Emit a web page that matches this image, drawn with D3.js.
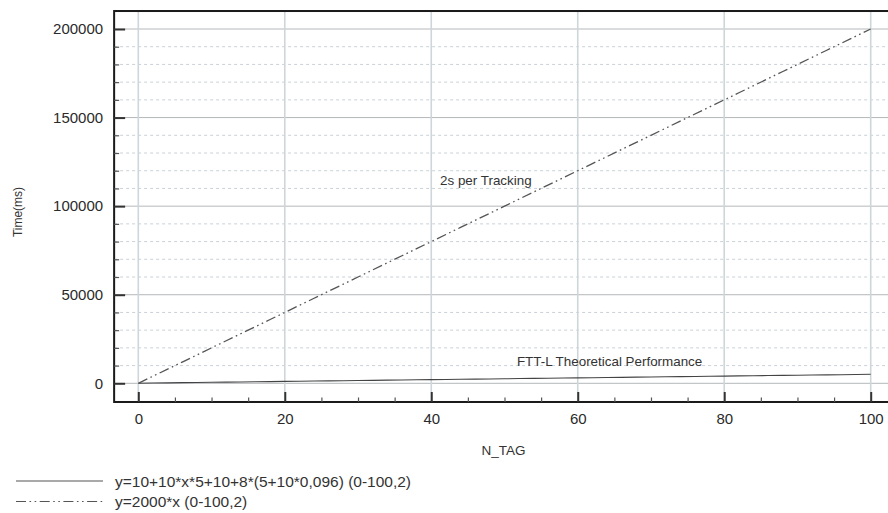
<!DOCTYPE html>
<html>
<head>
<meta charset="utf-8">
<script src="https://cdn.jsdelivr.net/npm/d3@7"></script>
<style>
  html, body { margin: 0; padding: 0; background: #fff; }
  svg { display: block; font-family: "Liberation Sans", Arial, Helvetica, sans-serif; }
</style>
</head>
<body>
<svg id="chart" width="888" height="513"></svg>
<script>
// Sample points N_TAG = 0..100 step 2
const nTag = [0,2,4,6,8,10,12,14,16,18,20,22,24,26,28,30,32,34,36,38,40,42,44,46,48,50,
  52,54,56,58,60,62,64,66,68,70,72,74,76,78,80,82,84,86,88,90,92,94,96,98,100];

// y = 10+10*x*5+10+8*(5+10*0,096)
const fttTime = [67.68,167.68,267.68,367.68,467.68,567.68,667.68,767.68,867.68,967.68,
  1067.68,1167.68,1267.68,1367.68,1467.68,1567.68,1667.68,1767.68,1867.68,1967.68,
  2067.68,2167.68,2267.68,2367.68,2467.68,2567.68,2667.68,2767.68,2867.68,2967.68,
  3067.68,3167.68,3267.68,3367.68,3467.68,3567.68,3667.68,3767.68,3867.68,3967.68,
  4067.68,4167.68,4267.68,4367.68,4467.68,4567.68,4667.68,4767.68,4867.68,4967.68,5067.68];

// y = 2000*x
const trackTime = [0,4000,8000,12000,16000,20000,24000,28000,32000,36000,
  40000,44000,48000,52000,56000,60000,64000,68000,72000,76000,
  80000,84000,88000,92000,96000,100000,104000,108000,112000,116000,
  120000,124000,128000,132000,136000,140000,144000,148000,152000,156000,
  160000,164000,168000,172000,176000,180000,184000,188000,192000,196000,200000];

const xMajorTicks = [0, 20, 40, 60, 80, 100];
const xMinorTicks = [5,10,15,25,30,35,45,50,55,65,70,75,85,90,95];
const yMajorTicks = [0, 50000, 100000, 150000, 200000];
const yMinorTicks = [10000,20000,30000,40000,60000,70000,80000,90000,
  110000,120000,130000,140000,160000,170000,180000,190000];

const legendLabels = ["y=10+10*x*5+10+8*(5+10*0,096) (0-100,2)", "y=2000*x (0-100,2)"];
const curveLabels = ["FTT-L Theoretical Performance", "2s per Tracking"];
const curveLabelPos = [[51.7, 9900], [41.2, 111900]];

const svg = d3.select("#chart");

const x = d3.scaleLinear().domain([0, 100]).range([138.3, 870.7]);
const y = d3.scaleLinear().domain([0, 200000]).range([383.3, 29]);

// plot frame extents (in data units)
const xLo = -3.3, xHi = 103.5, yLo = -10550, yHi = 210150;
const fx0 = x(xLo), fx1 = x(xHi), fy0 = y(yHi), fy1 = y(yLo);

const grid = svg.append("g");
// minor horizontal dashed grid
grid.selectAll(".hminor").data(yMinorTicks).join("line")
  .attr("x1", fx0).attr("x2", fx1)
  .attr("y1", d => y(d)).attr("y2", d => y(d))
  .attr("stroke", "#c9d2d8").attr("stroke-width", 1)
  .attr("stroke-dasharray", "3,3");
// major horizontal grid
grid.selectAll(".hmajor").data(yMajorTicks).join("line")
  .attr("x1", fx0).attr("x2", fx1)
  .attr("y1", d => y(d)).attr("y2", d => y(d))
  .attr("stroke", "#b4b8bb").attr("stroke-width", 1);
// vertical grid
grid.selectAll(".vmajor").data(xMajorTicks).join("line")
  .attr("x1", d => x(d)).attr("x2", d => x(d))
  .attr("y1", fy0).attr("y2", fy1)
  .attr("stroke", "#cfd6da").attr("stroke-width", 1.6);

// series
const line = d3.line().x(d => x(d[0])).y(d => y(d[1]));
svg.append("path")
  .datum(nTag.map((n, i) => [n, fttTime[i]]))
  .attr("d", line).attr("fill", "none")
  .attr("stroke", "#444").attr("stroke-width", 1.1);
svg.append("path")
  .datum(nTag.map((n, i) => [n, trackTime[i]]))
  .attr("d", line).attr("fill", "none")
  .attr("stroke", "#555").attr("stroke-width", 1.3)
  .attr("stroke-dasharray", "10,3.5,1.6,3.5,1.6,3.5");

// curve labels
svg.selectAll(".clabel").data(curveLabels).join("text")
  .attr("x", (d, i) => x(curveLabelPos[i][0]))
  .attr("y", (d, i) => y(curveLabelPos[i][1]))
  .attr("font-size", 13.4).attr("fill", "#333")
  .text(d => d);

// frame
svg.append("rect")
  .attr("x", fx0).attr("y", fy0)
  .attr("width", fx1 - fx0).attr("height", fy1 - fy0)
  .attr("fill", "none").attr("stroke", "#1a1a1a").attr("stroke-width", 2);

// x axis (ticks pointing inward)
const xAxis = svg.append("g").attr("transform", `translate(0,${fy1})`)
  .call(d3.axisBottom(x).tickValues(xMajorTicks).tickSizeInner(-10).tickSizeOuter(0).tickPadding(11)
    .tickFormat(d3.format("d")));
xAxis.select(".domain").remove();
xAxis.selectAll(".tick line").attr("stroke", "#333").attr("stroke-width", 2);
xAxis.selectAll(".tick text").attr("font-size", 15).attr("fill", "#2a2a2a")
  .attr("font-family", "Liberation Sans, Arial, sans-serif");
svg.append("g").attr("transform", `translate(0,${fy1})`)
  .call(d3.axisBottom(x).tickValues(xMinorTicks).tickSizeInner(-4.5).tickSizeOuter(0).tickFormat(""))
  .call(g => g.select(".domain").remove())
  .selectAll(".tick line").attr("stroke", "#555").attr("stroke-width", 1.2);

// y axis
const yAxis = svg.append("g").attr("transform", `translate(${fx0},0)`)
  .call(d3.axisLeft(y).tickValues(yMajorTicks).tickSizeInner(-11).tickSizeOuter(0).tickPadding(11)
    .tickFormat(d3.format("d")));
yAxis.select(".domain").remove();
yAxis.selectAll(".tick line").attr("stroke", "#333").attr("stroke-width", 2);
yAxis.selectAll(".tick text").attr("font-size", 15).attr("fill", "#2a2a2a")
  .attr("font-family", "Liberation Sans, Arial, sans-serif");
svg.append("g").attr("transform", `translate(${fx0},0)`)
  .call(d3.axisLeft(y).tickValues(yMinorTicks).tickSizeInner(-5).tickSizeOuter(0).tickFormat(""))
  .call(g => g.select(".domain").remove())
  .selectAll(".tick line").attr("stroke", "#555").attr("stroke-width", 1.2);

// axis titles
svg.append("text").attr("x", 503.5).attr("y", 455)
  .attr("text-anchor", "middle").attr("font-size", 13.5).attr("fill", "#333")
  .text("N_TAG");
svg.append("text")
  .attr("transform", "translate(22,212) rotate(-90)")
  .attr("text-anchor", "middle").attr("font-size", 12).attr("fill", "#333")
  .text("Time(ms)");

// legend
const legendDash = [null, "10,3.5,1.6,3.5,1.6,3.5"];
const legend = svg.append("g");
legendLabels.forEach((lab, i) => {
  const ly = 481 + i * 20.5;
  legend.append("line")
    .attr("x1", 16).attr("x2", 103).attr("y1", ly).attr("y2", ly)
    .attr("stroke", "#555").attr("stroke-width", 1.2)
    .attr("stroke-dasharray", legendDash[i]);
  legend.append("text")
    .attr("x", 115).attr("y", ly + 5.5)
    .attr("font-size", 15.5).attr("fill", "#333")
    .text(lab);
});
</script>
</body>
</html>
